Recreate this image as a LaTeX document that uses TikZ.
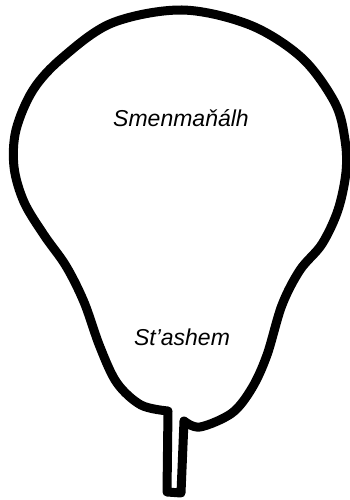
\documentclass[tikz,border=0pt]{standalone}
\usepackage{fontspec}
\setmainfont{Liberation Sans}
\begin{document}
\begin{tikzpicture}[x=1pt,y=-1pt]
  \useasboundingbox[fill=white] (0,0) rectangle (350,500);

  % outline of the pear
  \draw[line width=9pt,line join=round,line cap=round]
    plot[smooth,tension=0.55] coordinates {(184,421) (200,427) (232,413) (252,388)
      (267,355) (282,305) (300,270) (322,244) (338,210) (346,172) (345,140)
      (335,103) (302,58) (250,25) (182,10) (112,23) (62,58) (33,90) (16,130)
      (14,167) (24,202) (44,235) (66,266) (84,302) (100,347) (117,383)
      (141,405) (168,411)}
    -- (167,492) -- (181,493) -- cycle;

  \node[font=\fontsize{23}{28}\selectfont\itshape] (upper) at (181,118) {Smenmaňálh};
  \node[font=\fontsize{23}{28}\selectfont\itshape] (lower) at (182,337) {St’ashem};
\end{tikzpicture}
\end{document}
